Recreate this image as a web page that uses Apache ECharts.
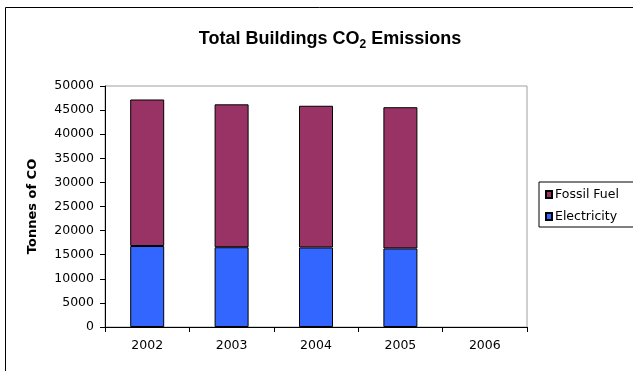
<!DOCTYPE html>
<html>
<head>
<meta charset="utf-8">
<title>Total Buildings CO2 Emissions</title>
<script src="https://cdn.jsdelivr.net/npm/echarts@6/dist/echarts.min.js"></script>
<style>
  html, body { margin: 0; padding: 0; background: #fff; }
  #chart { width: 633px; height: 371px; }
</style>
</head>
<body>
<div id="chart"></div>
<script>
// Years on the category axis
const years = ['2002', '2003', '2004', '2005', '2006'];
// Emissions in tonnes, stacked: electricity at the bottom, fossil fuel above
const electricity = [16800, 16550, 16500, 16300, null];
const fossilFuel = [30400, 29650, 29400, 29300, null];
// Value axis range
const yMin = 0;
const yMax = 50000;
const yStep = 5000;

const axisFont = 'DejaVu Sans';
const chart = echarts.init(document.getElementById('chart'));

chart.setOption({
  animation: false,
  backgroundColor: '#ffffff',
  title: {
    text: 'Total Buildings CO{sub|2} Emissions',
    left: 325,
    top: 22,
    textAlign: 'center',
    textStyle: {
      fontFamily: 'Liberation Sans',
      fontSize: 18,
      fontWeight: 'bold',
      color: '#000',
      lineHeight: 20,
      rich: {
        sub: {
          fontFamily: 'Liberation Sans',
          fontSize: 12,
          fontWeight: 'bold',
          color: '#000',
          lineHeight: 24,
          verticalAlign: 'bottom'
        }
      }
    }
  },
  graphic: [{
    type: 'rect',
    shape: { x: 5.5, y: 7.5, width: 700, height: 400 },
    style: { fill: 'none', stroke: '#000', lineWidth: 1 },
    silent: true,
    z: -10
  }],
  legend: {
    orient: 'vertical',
    left: 539,
    top: 182,
    padding: [6, 60, 4, 6],
    itemGap: 9,
    itemWidth: 6,
    itemHeight: 7,
    icon: 'rect',
    borderColor: '#000',
    borderWidth: 1,
    data: ['Fossil Fuel', 'Electricity'],
    textStyle: { fontFamily: axisFont, fontSize: 12.5, color: '#000', padding: [0, 0, 0, -2] }
  },
  grid: {
    left: 105,
    right: 106,
    top: 86,
    bottom: 44,
    show: true,
    borderColor: '#a0a0a0',
    borderWidth: 1,
    containLabel: false
  },
  xAxis: {
    type: 'category',
    data: years,
    boundaryGap: true,
    axisLine: { lineStyle: { color: '#000', width: 1 } },
    axisTick: { show: true, inside: false, length: 5, lineStyle: { color: '#000' } },
    axisLabel: { fontFamily: axisFont, fontSize: 12.5, color: '#000', margin: 12 },
    splitLine: { show: false }
  },
  yAxis: {
    type: 'value',
    min: yMin,
    max: yMax,
    interval: yStep,
    name: 'Tonnes of CO',
    nameLocation: 'middle',
    nameGap: 66,
    nameRotate: 90,
    nameTextStyle: { fontFamily: axisFont, fontSize: 13, fontWeight: 'bold', color: '#000' },
    axisLine: { show: true, lineStyle: { color: '#000', width: 1 } },
    axisTick: { show: true, inside: false, length: 5, lineStyle: { color: '#000' } },
    axisLabel: {
      fontFamily: axisFont,
      fontSize: 12.5,
      color: '#000',
      margin: 11,
      formatter: function (v) { return String(v); }
    },
    splitLine: { show: false }
  },
  series: [
    {
      name: 'Electricity',
      type: 'bar',
      stack: 'total',
      data: electricity,
      barWidth: 34,
      itemStyle: { color: '#3366FF', borderColor: '#000', borderWidth: 1 }
    },
    {
      name: 'Fossil Fuel',
      type: 'bar',
      stack: 'total',
      data: fossilFuel,
      barWidth: 34,
      itemStyle: { color: '#993366', borderColor: '#000', borderWidth: 1 }
    }
  ]
});
</script>
</body>
</html>
